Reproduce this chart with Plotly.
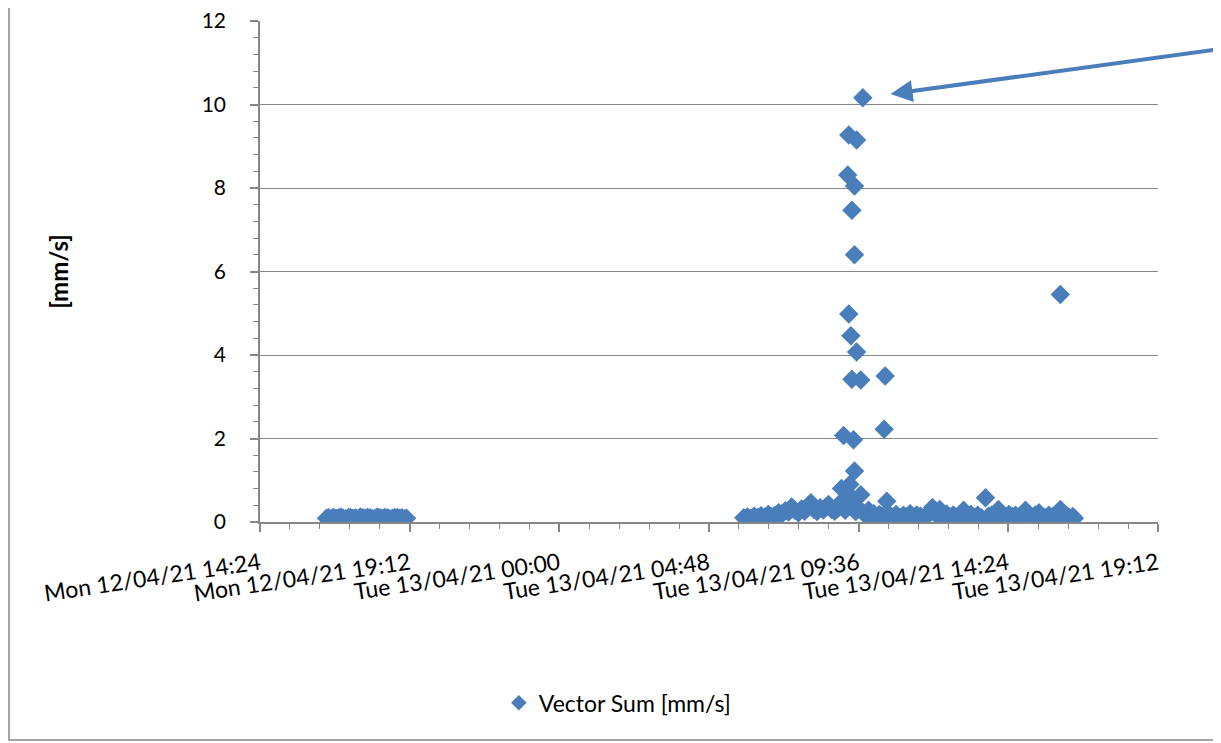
import plotly.graph_objects as go

# ---------------- data ----------------
day1 = "2021-04-12 "
day2 = "2021-04-13 "

cluster1_times = ["16:32", "16:36", "16:41", "16:45", "16:50", "16:55", "17:00", "17:04", "17:09",
                  "17:14", "17:18", "17:23", "17:28", "17:33", "17:37", "17:42", "17:47", "17:51",
                  "17:56", "18:01", "18:06", "18:10", "18:15", "18:20", "18:24", "18:29", "18:34",
                  "18:39", "18:43", "18:48", "18:53", "18:57", "19:02", "19:06"]
cluster1_values = [0.09, 0.10, 0.08, 0.11, 0.09, 0.10, 0.12, 0.09, 0.08, 0.10, 0.11, 0.09, 0.10,
                   0.08, 0.12, 0.10, 0.09, 0.11, 0.10, 0.08, 0.09, 0.12, 0.10, 0.09, 0.11, 0.10,
                   0.08, 0.09, 0.10, 0.11, 0.09, 0.10, 0.08, 0.09]

cluster2_times = ["05:55", "06:02", "06:08", "06:15", "06:22", "06:28", "06:35", "06:42", "06:48",
                  "06:55", "07:02", "07:08", "07:15", "07:21", "07:27", "07:33", "07:40", "07:46",
                  "07:52", "07:58", "08:04", "08:10", "08:16", "08:22", "08:28", "08:33", "08:38",
                  "08:44", "08:50", "08:56", "09:00", "09:03", "09:05", "09:10", "09:13", "09:19",
                  "09:22", "09:25", "09:30", "09:35", "09:40", "09:45", "09:50", "09:55", "10:00",
                  "10:05", "10:10", "10:16", "10:22", "10:30", "10:36", "10:42", "10:48", "10:55",
                  "11:02", "11:08", "11:15", "11:22", "11:28", "11:35", "11:42", "11:48", "11:58",
                  "12:05", "12:12", "12:18", "12:25", "12:32", "12:38", "12:45", "12:52", "12:58",
                  "13:05", "13:12", "13:18", "13:25", "13:32", "13:40", "13:46", "13:52", "13:58",
                  "14:05", "14:12", "14:18", "14:25", "14:32", "14:38", "14:45", "14:51", "14:57",
                  "15:04", "15:10", "15:16", "15:23", "15:30", "15:36", "15:42", "15:48", "15:55",
                  "16:00", "16:04", "16:04", "16:10", "16:16", "16:22", "16:28", "16:31"]
cluster2_values = [0.10, 0.12, 0.09, 0.14, 0.11, 0.15, 0.12, 0.18, 0.13,
                   0.16, 0.22, 0.19, 0.27, 0.24, 0.36, 0.28, 0.22, 0.31,
                   0.26, 0.38, 0.46, 0.30, 0.25, 0.34, 0.29, 0.36, 0.42,
                   0.30, 0.26, 0.33, 0.45, 0.80, 0.35, 0.28, 0.55, 0.90,
                   0.60, 0.40, 0.25, 0.32, 0.65, 0.22, 0.18, 0.28, 0.15,
                   0.20, 0.12, 0.18, 0.14, 0.50, 0.16, 0.12, 0.18, 0.11,
                   0.16, 0.13, 0.20, 0.12, 0.17, 0.14, 0.10, 0.15, 0.35,
                   0.18, 0.30, 0.14, 0.19, 0.12, 0.17, 0.11, 0.15, 0.28,
                   0.13, 0.18, 0.12, 0.16, 0.10, 0.58, 0.14, 0.17, 0.12,
                   0.30, 0.15, 0.11, 0.18, 0.13, 0.16, 0.12, 0.19, 0.28,
                   0.14, 0.11, 0.17, 0.22, 0.13, 0.10, 0.16, 0.12, 0.18,
                   0.14, 0.30, 5.45, 0.12, 0.15, 0.10, 0.13, 0.09]

spike_times = ["09:44", "09:17", "09:32", "09:15", "09:28", "09:23", "09:28", "09:17", "09:21",
               "09:32", "09:23", "09:40", "10:27", "09:07", "09:26", "10:25", "09:28"]
spike_values = [10.16, 9.27, 9.15, 8.31, 8.05, 7.47, 6.40, 4.98, 4.46,
                4.07, 3.42, 3.40, 3.50, 2.07, 1.97, 2.22, 1.22]

tick_values = ["2021-04-12 14:24", "2021-04-12 19:12", "2021-04-13 00:00", "2021-04-13 04:48",
               "2021-04-13 09:36", "2021-04-13 14:24", "2021-04-13 19:12"]
tick_labels = ["Mon 12/04/21 14:24", "Mon 12/04/21 19:12", "Tue 13/04/21 00:00",
               "Tue 13/04/21 04:48", "Tue 13/04/21 09:36", "Tue 13/04/21 14:24",
               "Tue 13/04/21 19:12"]

y_tick_values = [0, 2, 4, 6, 8, 10, 12]

series_name = "Vector Sum [mm/s]"

# ---------------- build ----------------
x_all = ([day1 + t for t in cluster1_times] + [day2 + t for t in cluster2_times]
         + [day2 + t for t in spike_times])
y_all = cluster1_values + cluster2_values + spike_values

BLUE = "#4A7EBB"
GRAY = "#868686"
FONT = "Lato"

fig = go.Figure()
fig.add_trace(go.Scatter(
    x=x_all, y=y_all, mode="markers", name=series_name,
    marker=dict(symbol="diamond", size=15, color=BLUE, line=dict(width=0)),
    showlegend=True,
))

# arrow pointing at the maximum value
imax = max(range(len(y_all)), key=lambda i: y_all[i])
fig.add_annotation(
    x=x_all[imax], y=y_all[imax], xref="x", yref="y",
    ax=366, ay=-50, axref="pixel", ayref="pixel",
    showarrow=True, arrowhead=2, arrowsize=1.1, arrowwidth=4, arrowcolor=BLUE,
    standoff=28, text="",
)

# outer chart border
fig.add_shape(type="rect", xref="paper", yref="paper",
              x0=-0.2795, x1=1.0657, y0=-0.435, y1=1.06,
              line=dict(color=GRAY, width=1.5), fillcolor="rgba(0,0,0,0)", layer="below")

fig.update_layout(
    width=1221, height=743,
    margin=dict(l=252, r=71, t=13, b=229, autoexpand=False),
    paper_bgcolor="white", plot_bgcolor="white",
    font=dict(family=FONT, size=23, color="black"),
    showlegend=True,
    legend=dict(x=0.266, y=-0.361, xanchor="left", yanchor="middle",
                font=dict(family=FONT, size=23, color="black"),
                bgcolor="rgba(0,0,0,0)", itemsizing="constant"),
    xaxis=dict(
        type="date", automargin=False,
        range=["2021-04-12 14:24", "2021-04-13 19:12"],
        tickmode="array", tickvals=tick_values, ticktext=tick_labels,
        tickangle=-8.5, tickfont=dict(family=FONT, size=23, color="black"),
        ticklabeloverflow="allow", ticklabelstandoff=10,
        showgrid=False, zeroline=False,
        showline=True, linecolor=GRAY, linewidth=1.5,
        ticks="outside", ticklen=8, tickcolor=GRAY, tickwidth=1.5,
        minor=dict(ticks="outside", ticklen=5, tickcolor=GRAY, tickwidth=1,
                   dtick=3456000, tick0="2021-04-12 14:24", showgrid=False),
    ),
    yaxis=dict(
        automargin=False,
        range=[0, 12.0001], tickmode="array", tickvals=y_tick_values,
        tickfont=dict(family=FONT, size=21, color="black"),
        ticklabeloverflow="allow", ticklabelstandoff=20,
        showgrid=True, gridcolor=GRAY, gridwidth=1.3,
        zeroline=False,
        showline=True, linecolor=GRAY, linewidth=1.5,
        ticks="outside", ticklen=8, tickcolor=GRAY, tickwidth=1.5,
        minor=dict(ticks="outside", ticklen=5, tickcolor=GRAY, tickwidth=1,
                   dtick=0.4, tick0=0, showgrid=False),
        title=dict(text="<b>[mm/s]</b>", font=dict(family=FONT, size=24, color="black"),
                   standoff=126),
    ),
)

fig.write_html("out.html")
